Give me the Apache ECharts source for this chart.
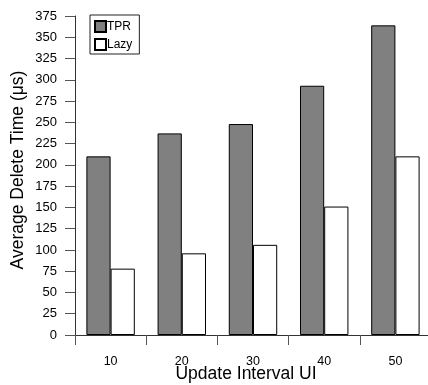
<!DOCTYPE html>
<html>
<head>
<meta charset="utf-8">
<script src="https://cdn.jsdelivr.net/npm/echarts@6/dist/echarts.min.js"></script>
<style>
  html, body { margin: 0; padding: 0; background: #fff; }
  #chart { width: 428px; height: 385px; }
</style>
</head>
<body>
<div id="chart"></div>
<script>
// Update intervals on the x axis
const categories = ['10', '20', '30', '40', '50'];
// Average delete time (µs) per method
const tprValues = [210, 237, 248, 293, 364];
const lazyValues = [78, 96, 106, 151, 210];

const chart = echarts.init(document.getElementById('chart'), null, { renderer: 'canvas' });
const font = 'Liberation Sans, Arial, sans-serif';

chart.setOption({
  animation: false,
  textStyle: { fontFamily: font },
  grid: { left: 75, top: 16, right: -3, bottom: 50, containLabel: false, outerBoundsMode: 'none' },
  legend: {
    orient: 'vertical',
    left: 90,
    top: 15,
    padding: [5, 7, 3, 4],
    itemGap: 5,
    itemWidth: 11,
    itemHeight: 11,
    borderColor: '#222',
    borderWidth: 1,
    textStyle: { fontSize: 12, color: '#000', fontFamily: font, padding: [0, 0, 0, -4] },
    data: [
      { name: 'TPR', icon: 'rect' },
      { name: 'Lazy', icon: 'rect' }
    ]
  },
  xAxis: {
    type: 'category',
    data: categories,
    name: 'Update Interval UI',
    nameLocation: 'middle',
    nameGap: 30,
    nameMoveOverlap: false,
    nameTextStyle: { fontSize: 17.5, color: '#000', fontFamily: font, padding: [0, 14, 0, 0] },
    axisLine: { lineStyle: { color: '#333', width: 1 } },
    axisTick: { show: true, length: 10, interval: 0, lineStyle: { color: '#555' } },
    axisLabel: { margin: 20, fontSize: 12.5, color: '#000', fontFamily: font }
  },
  yAxis: {
    type: 'value',
    min: 0,
    max: 375,
    interval: 25,
    name: 'Average Delete Time (μs)',
    nameLocation: 'middle',
    nameGap: 48,
    nameMoveOverlap: false,
    nameTextStyle: { fontSize: 17.5, color: '#000', fontFamily: font, padding: [0, 0, 0, 11] },
    splitLine: { show: false },
    axisLine: { show: true, lineStyle: { color: '#333', width: 1 } },
    axisTick: { show: true, length: 10, lineStyle: { color: '#555' } },
    axisLabel: { margin: 18, fontSize: 13, color: '#000', fontFamily: font }
  },
  series: [
    {
      name: 'TPR',
      type: 'bar',
      data: tprValues,
      barGap: '0%',
      barCategoryGap: '32%',
      itemStyle: { color: '#808080', borderColor: '#000', borderWidth: 1 }
    },
    {
      name: 'Lazy',
      type: 'bar',
      data: lazyValues,
      barGap: '0%',
      barCategoryGap: '32%',
      itemStyle: { color: '#ffffff', borderColor: '#000', borderWidth: 1 }
    }
  ]
});
</script>
</body>
</html>
